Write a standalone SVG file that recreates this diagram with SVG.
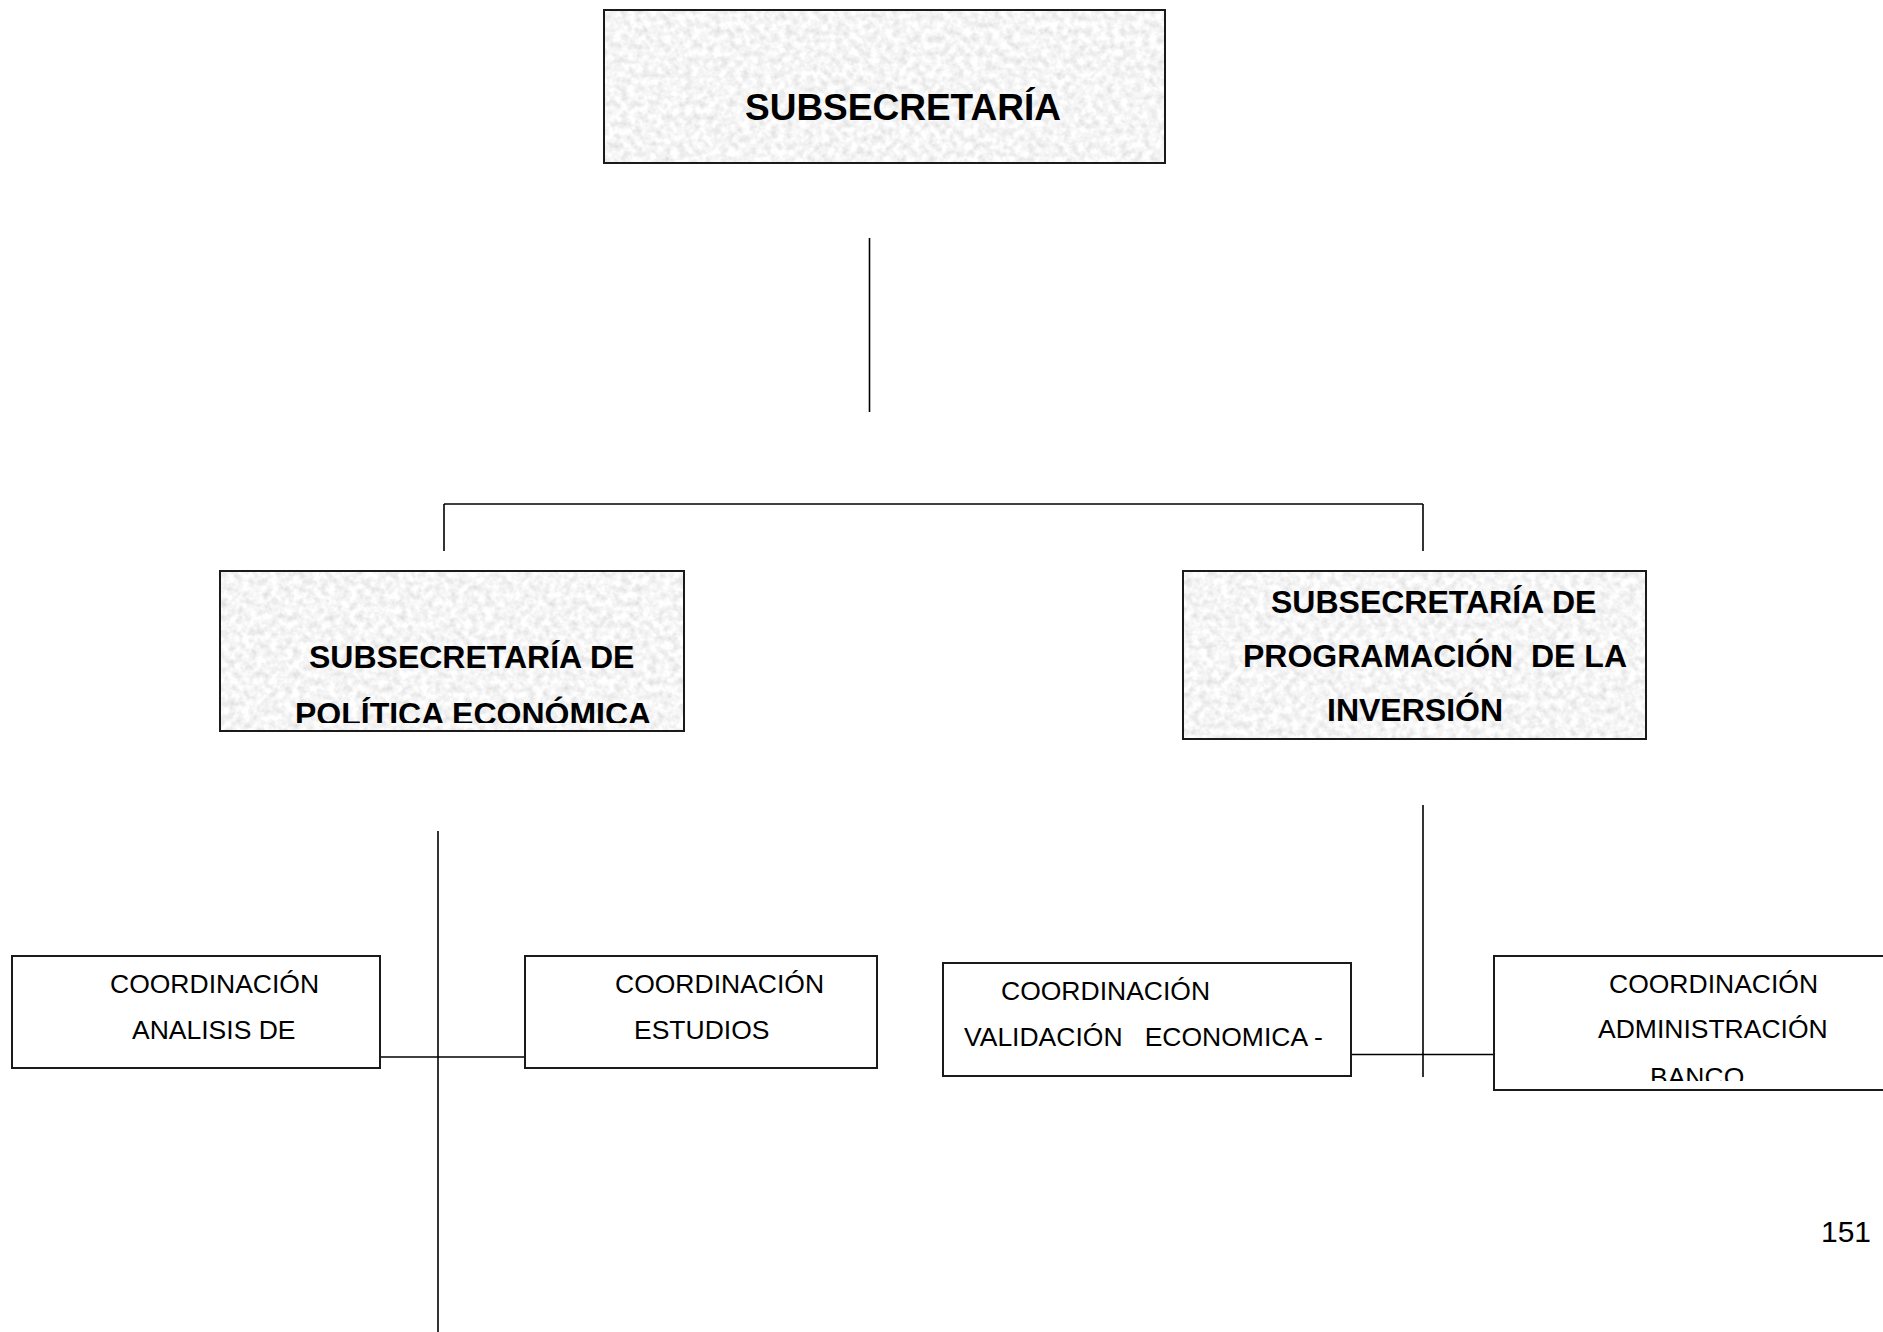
<svg xmlns="http://www.w3.org/2000/svg" width="1883" height="1332" viewBox="0 0 1883 1332">
<style>
.box{fill:#fff;stroke:#1a1a1a;stroke-width:2}
.gbox{fill:none;stroke:#1a1a1a;stroke-width:2}
.tex{fill:#e8e8e8;filter:url(#granite)}
.h{font-family:"Liberation Sans",Arial,sans-serif;font-weight:bold;font-size:32px;fill:#000}
.t{font-family:"Liberation Sans",Arial,sans-serif;font-size:26.5px;fill:#000}
.ln{stroke:#000;stroke-width:1.6;fill:none}
</style>
<defs>
<filter id="granite" x="0" y="0" width="100%" height="100%">
<feTurbulence type="fractalNoise" baseFrequency="0.14" numOctaves="3" seed="7" result="n"/>
<feColorMatrix in="n" type="matrix" values="0.45 0 0 0 0.69  0.45 0 0 0 0.69  0.45 0 0 0 0.69  0 0 0 0 1" result="g"/>
<feComposite in="g" in2="SourceGraphic" operator="in"/>
</filter>
<clipPath id="clipL"><rect x="220" y="571" width="464" height="152"/></clipPath>
<clipPath id="clipD"><rect x="1494" y="956" width="400" height="125"/></clipPath>
</defs>
<rect width="1883" height="1332" fill="#fff"/>

<g id="connectors">
<line class="ln" x1="869.5" y1="238" x2="869.5" y2="412"/>
<line class="ln" x1="444" y1="504" x2="1423" y2="504"/>
<line class="ln" x1="444" y1="504" x2="444" y2="551"/>
<line class="ln" x1="1423" y1="504" x2="1423" y2="551"/>
<line class="ln" x1="438" y1="831" x2="438" y2="1332"/>
<line class="ln" x1="380" y1="1057" x2="525" y2="1057"/>
<line class="ln" x1="1423" y1="805" x2="1423" y2="1077"/>
<line class="ln" x1="1351" y1="1054.5" x2="1494" y2="1054.5"/>
</g>

<g id="node-subsecretaria">
<rect class="tex" x="604" y="10" width="561" height="153"/>
<rect class="gbox" x="604" y="10" width="561" height="153"/>
<text class="h" x="745" y="119.5" style="font-size:37px">SUBSECRETARÍA</text>
</g>

<g id="node-politica">
<rect class="tex" x="220" y="571" width="464" height="160"/>
<rect class="gbox" x="220" y="571" width="464" height="160"/>
<g clip-path="url(#clipL)">
<text class="h" x="309" y="668">SUBSECRETARÍA DE</text>
<text class="h" x="295" y="725">POLÍTICA ECONÓMICA</text>
</g>
</g>

<g id="node-programacion">
<rect class="tex" x="1183" y="571" width="463" height="168"/>
<rect class="gbox" x="1183" y="571" width="463" height="168"/>
<text class="h" x="1271" y="613">SUBSECRETARÍA DE</text>
<text class="h" x="1243" y="667" xml:space="preserve">PROGRAMACIÓN  DE LA</text>
<text class="h" x="1327" y="721">INVERSIÓN</text>
</g>

<g id="node-analisis">
<rect class="box" x="12" y="956" width="368" height="112"/>
<text class="t" x="110" y="993">COORDINACIÓN</text>
<text class="t" x="132" y="1039">ANALISIS DE</text>
</g>

<g id="node-estudios">
<rect class="box" x="525" y="956" width="352" height="112"/>
<text class="t" x="615" y="993">COORDINACIÓN</text>
<text class="t" x="634" y="1039">ESTUDIOS</text>
</g>

<g id="node-validacion">
<rect class="box" x="943" y="963" width="408" height="113"/>
<text class="t" x="1001" y="1000">COORDINACIÓN</text>
<text class="t" x="964" y="1046" xml:space="preserve">VALIDACIÓN   ECONOMICA -</text>
</g>

<g id="node-administracion">
<rect class="box" x="1494" y="956" width="400" height="134"/>
<g clip-path="url(#clipD)">
<text class="t" x="1609" y="993">COORDINACIÓN</text>
<text class="t" x="1598" y="1038">ADMINISTRACIÓN</text>
<text class="t" x="1650" y="1086">BANCO</text>
</g>
</g>

<text class="t" x="1821" y="1242" style="font-size:30px">151</text>
</svg>
